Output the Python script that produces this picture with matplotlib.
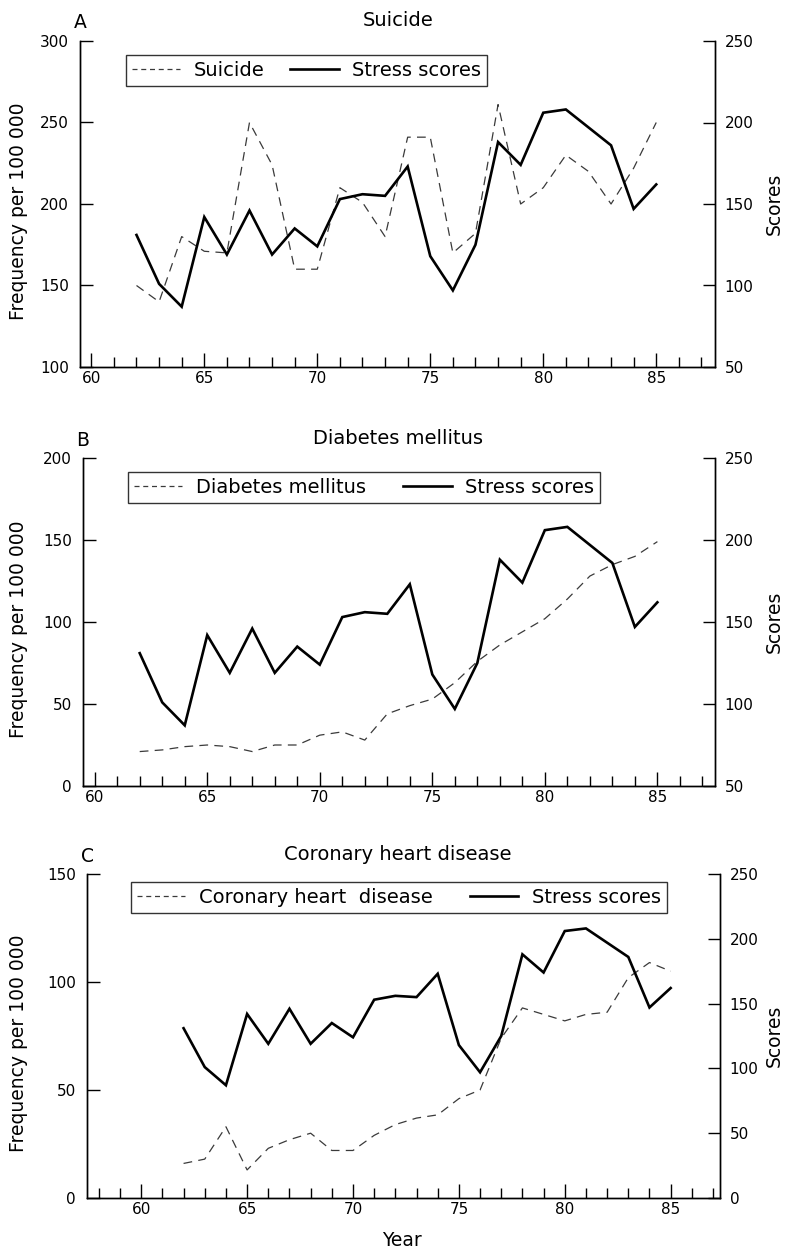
import numpy as np
import matplotlib
matplotlib.use("Agg")
import matplotlib.pyplot as plt
from matplotlib.lines import Line2D

plt.rcParams['font.family'] = ['DejaVu Sans']

# data
years = list(range(62, 86))
stress = [131, 101, 87, 142, 119, 146, 119, 135, 124, 153, 156, 155,
          173, 118, 97, 125, 188, 174, 206, 208, 197, 186, 147, 162]
suicide = [150, 140, 180, 171, 170, 250, 224, 160, 160, 210, 201, 180,
           241, 241, 170, 182, 261, 200, 210, 230, 220, 200, 222, 250]
diabetes = [21, 22, 24, 25, 24, 21, 25, 25, 31, 33, 28, 44,
            49, 53, 63, 76, 86, 94, 102, 114, 128, 135, 140, 149]
coronary = [16, 18, 33, 13, 23, 27, 30, 22, 22, 29, 34, 37,
            38.5, 46, 50, 74, 88, 85, 82, 85, 86, 102, 109, 105]

W, H = 787, 1249


def box(l, t, r, b):
    return [l / W, 1 - b / H, (r - l) / W, (b - t) / H]


fig = plt.figure(figsize=(W / 100, H / 100), dpi=100)

panels = [
    # letter, title, series, label, axes box, xlim, left ylim, right ylim, legend corner, colspacing
    ("A", "Suicide", suicide, "Suicide", (80, 41, 715, 367), (59.5, 87.6),
     (100, 300), (50, 250), (126, 55), 1.3),
    ("B", "Diabetes mellitus", diabetes, "Diabetes mellitus", (83, 458, 715, 786),
     (59.48, 87.56), (0, 200), (50, 250), (128, 472), 1.9),
    ("C", "Coronary heart disease", coronary, "Coronary heart  disease",
     (87, 874, 720, 1198), (57.44, 87.33), (0, 150), (0, 250), (131, 882), 1.9),
]

for letter, title, series, lab, bx, xl, yl, yr, lg, colsp in panels:
    ax = fig.add_axes(box(*bx))
    ax2 = ax.twinx()
    ax.set_xlim(*xl)
    ax.set_ylim(*yl)
    ax2.set_ylim(*yr)

    ax.plot(years, series, color="#3a3a3a", lw=0.9, dashes=(7, 5))
    ax2.plot(years, stress, color="black", lw=1.9, solid_joinstyle="miter")

    for a in (ax, ax2):
        a.spines['top'].set_visible(False)
        for s in ('left', 'right', 'bottom'):
            a.spines[s].set_linewidth(1.0)

    ax.set_xticks(range(60, 86, 5))
    ax.set_xticks(range(int(np.ceil(xl[0])), int(np.floor(xl[1])) + 1), minor=True)
    ax.tick_params(axis='x', which='major', direction='in', length=10, width=1,
                   pad=3, labelsize=11)
    ax.tick_params(axis='x', which='minor', direction='in', length=7, width=1)

    ax.set_yticks(np.linspace(yl[0], yl[1], 5 if yl[1] - yl[0] == 200 else 4))
    ax.tick_params(axis='y', direction='in', length=9, width=1, pad=8,
                   labelsize=11)
    ax2.set_yticks(np.arange(yr[0], yr[1] + 1, 50))
    ax2.tick_params(axis='y', direction='in', length=9, width=1, pad=7,
                    labelsize=11)

    handles = [Line2D([], [], color="#3a3a3a", lw=0.9, dashes=(4, 3)),
               Line2D([], [], color="black", lw=1.9)]
    leg = ax.legend(handles, [lab, "Stress scores"], ncol=2,
                    loc="upper left",
                    bbox_to_anchor=(lg[0] / W, 1 - lg[1] / H),
                    bbox_transform=fig.transFigure,
                    fontsize=14, frameon=True, fancybox=False,
                    edgecolor="black", borderpad=0.3, borderaxespad=0,
                    handlelength=2.5, handletextpad=0.7, columnspacing=colsp)
    leg.get_frame().set_linewidth(1.0)

    cy = (bx[1] + bx[3]) / 2
    fig.text(bx[0] / W, 1 - (bx[1] - 18) / H, letter, fontsize=13.5,
             ha="center", va="center")
    fig.text(398 / W, 1 - (bx[1] - 20) / H, title, fontsize=14,
             ha="center", va="center")
    fig.text(19 / W, 1 - (cy + 7) / H, "Frequency per 100 000", fontsize=13.5,
             rotation=90, ha="center", va="center")
    fig.text(774 / W, 1 - cy / H, "Scores", fontsize=13.5, rotation=90,
             ha="center", va="center")

fig.text(402 / W, 1 - 1240 / H, "Year", fontsize=13.5, ha="center", va="center")

fig.savefig("out.png", dpi=100)
